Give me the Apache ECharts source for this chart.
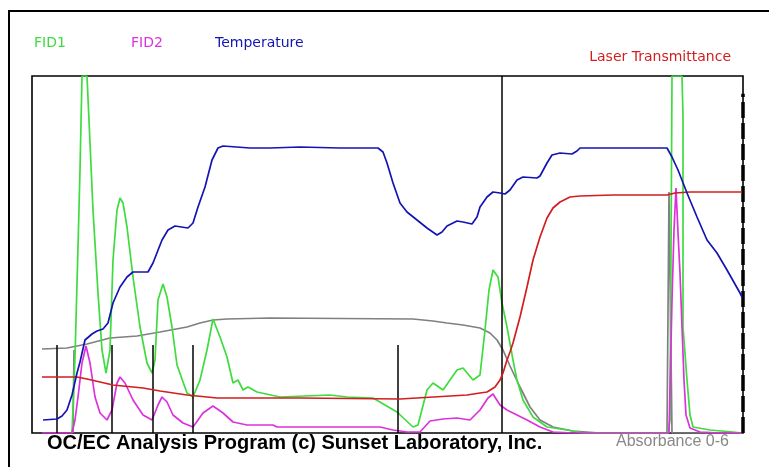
<!DOCTYPE html>
<html>
<head>
<meta charset="utf-8">
<title>OC/EC Thermogram</title>
<script src="https://cdn.jsdelivr.net/npm/echarts@6/dist/echarts.min.js"></script>
<style>
  html, body { margin: 0; padding: 0; background: #ffffff; }
  #chart { width: 769px; height: 467px; }
</style>
</head>
<body>
<div id="chart"></div>
<script>
// Thermogram traces: [time (s), signal (arb. units, 0-357 full scale)]
const fid1 = [
  [40,0],[43,76],[46,186],[48,263],[50,357],[55,357],[58,290],[61,223],[66,140],[70,83],[74,60],
  [78,83],[81,173],[85,223],[88,235],[91,230],[95,206],[101,156],[108,106],[115,70],[120,60],
  [123,73],[126,133],[131,149],[135,136],[140,106],[145,68],[155,40],[161,36],[168,53],[175,83],
  [181,114],[188,96],[195,76],[201,50],[206,53],[211,43],[216,46],[225,41],[248,36],[298,38],
  [315,36],[341,35],[365,21],[381,6],[386,8],[395,43],[401,50],[411,43],[425,63],[431,65],
  [441,53],[448,58],[453,103],[457,143],[461,163],[466,156],[470,130],[475,106],[481,73],[485,53],
  [491,33],[501,16],[515,6],[535,3],[551,0],[636,0],[638,13],[639,176],[640,357],[650,357],
  [651,316],[651,106],[655,53],[658,18],[661,6],[678,3],[701,1],[710,0]
];
const fid2 = [
  [10,0],[40,0],[43,13],[46,36],[50,70],[54,87],[58,70],[63,36],[68,20],[75,13],[80,23],[85,50],
  [88,56],[93,50],[101,33],[111,18],[120,13],[126,28],[130,36],[135,31],[141,18],[151,10],[161,6],
  [171,20],[181,27],[191,20],[201,11],[215,8],[241,8],[245,6],[301,6],[348,6],[361,3],[375,1],
  [388,1],[398,12],[411,14],[425,15],[438,13],[448,23],[456,35],[461,39],[468,28],[475,23],
  [485,18],[495,13],[508,6],[521,1],[541,0],[637,0],[640,133],[642,203],[644,245],[646,200],
  [648,160],[650,106],[652,53],[654,18],[658,5],[668,1],[688,0],[710,0]
];
const temperature = [
  [11,13],[25,14],[30,17],[35,23],[40,38],[45,60],[48,71],[53,93],[60,99],[65,102],[71,104],
  [76,110],[81,130],[88,146],[95,156],[101,161],[116,161],[121,170],[130,193],[136,203],[143,207],
  [156,205],[161,210],[166,226],[173,246],[180,273],[186,285],[191,287],[218,285],[238,285],
  [268,286],[308,285],[346,285],[351,281],[355,270],[361,250],[368,230],[375,221],[385,213],
  [395,205],[405,198],[410,201],[415,207],[425,212],[431,211],[440,209],[445,216],[448,226],
  [455,236],[461,241],[468,240],[473,239],[478,243],[485,253],[491,256],[505,255],[508,257],
  [515,270],[520,278],[528,280],[540,279],[545,282],[548,285],[581,285],[608,285],[635,285],
  [640,276],[646,263],[655,240],[665,216],[675,193],[685,180],[695,163],[708,140],[710,136]
];
const laser = [
  [10,56],[45,56],[55,54],[68,51],[81,48],[111,45],[128,42],[155,38],[185,35],[268,35],[368,34],
  [435,38],[448,40],[455,41],[463,46],[468,53],[471,60],[475,73],[478,81],[481,90],[488,116],
  [495,146],[501,173],[508,196],[515,215],[521,225],[528,231],[538,236],[548,237],[581,238],
  [635,238],[643,240],[658,241],[710,241]
];
// '-' breaks the trace between the start-up tick and the main absorbance curve
const absorbance = [
  [41,0],[42,83],'-',
  [10,84],[35,85],[55,89],[78,95],[105,97],[128,101],[155,106],[168,110],[181,113],[195,114],
  [238,115],[381,114],[401,112],[415,110],[431,108],[448,105],[458,100],[465,93],[471,83],
  [478,67],[488,46],[498,26],[508,13],[521,6],[541,2],[568,0],[635,0],[637,241],[639,241],
  [640,0],[710,0]
];

// Event markers (s) and the OC/EC split time (s)
const markerTimes = [25, 80, 121, 161, 366];
const markerHeight = 88;
const splitTime = 470;

const timeMax = 711;
const signalMax = 357;

const C = {
  fid1: '#3edc3e',
  fid2: '#dc32dc',
  temp: '#1414b4',
  laser: '#d21e1e',
  abs: '#808080'
};

const chart = echarts.init(document.getElementById('chart'));

const lineSeries = (name, data, color, z) => ({
  name, type: 'line', data, z,
  showSymbol: false, symbol: 'none', connectNulls: false,
  lineStyle: { color, width: 1.7 },
  clip: true, silent: true
});

chart.setOption({
  animation: false,
  backgroundColor: '#ffffff',
  grid: {
    left: 32, right: 26, top: 76, bottom: 34,
    show: true, borderColor: '#000', borderWidth: 1.6, backgroundColor: '#ffffff'
  },
  xAxis: {
    type: 'value', min: 0, max: timeMax,
    axisLine: { show: false }, axisTick: { show: false },
    axisLabel: { show: false }, splitLine: { show: false }
  },
  yAxis: {
    type: 'value', min: 0, max: signalMax,
    axisLine: { show: false }, axisTick: { show: false },
    axisLabel: { show: false }, splitLine: { show: false }
  },
  series: [
    lineSeries('Absorbance', absorbance, C.abs, 2),
    lineSeries('FID1', fid1, C.fid1, 3),
    lineSeries('FID2', fid2, C.fid2, 4),
    lineSeries('Laser Transmittance', laser, C.laser, 5),
    lineSeries('Temperature', temperature, C.temp, 6),
    {
      name: 'Markers', type: 'line', data: [], z: 7, silent: true,
      markLine: {
        silent: true, symbol: 'none', animation: false,
        label: { show: false },
        lineStyle: { color: '#000', width: 1.5, type: 'solid' },
        data: [
          ...markerTimes.map(t => [{ coord: [t, 0] }, { coord: [t, markerHeight] }]),
          [{ coord: [splitTime, 0] }, { coord: [splitTime, signalMax] }],
          [{ coord: [timeMax, 0], lineStyle: { width: 3.5, type: [16, 5], color: '#000' } },
           { coord: [timeMax, signalMax * 0.95] }]
        ]
      }
    }
  ],
  graphic: [
    // outer frame
    { type: 'line', shape: { x1: 8, y1: 11, x2: 769, y2: 11 }, style: { stroke: '#000', lineWidth: 2 } },
    { type: 'line', shape: { x1: 9, y1: 11, x2: 9, y2: 467 }, style: { stroke: '#000', lineWidth: 2 } },
    // trace labels
    { type: 'text', left: 34, top: 36, style: { text: 'FID1', fill: C.fid1, font: '14px "DejaVu Sans"' } },
    { type: 'text', left: 131, top: 36, style: { text: 'FID2', fill: C.fid2, font: '14px "DejaVu Sans"' } },
    { type: 'text', left: 215, top: 36, style: { text: 'Temperature', fill: C.temp, font: '14px "DejaVu Sans"' } },
    { type: 'text', right: 38, top: 50, style: { text: 'Laser Transmittance', fill: C.laser, font: '14px "DejaVu Sans"' } },
    // footer
    { type: 'text', left: 47, top: 433, style: { text: 'OC/EC Analysis Program (c) Sunset Laboratory, Inc.', fill: '#000', font: 'bold 20px "Liberation Sans"' } },
    { type: 'text', left: 616, top: 434, style: { text: 'Absorbance 0-6', fill: '#888888', font: '16px "Liberation Sans"' } }
  ]
});
</script>
</body>
</html>
